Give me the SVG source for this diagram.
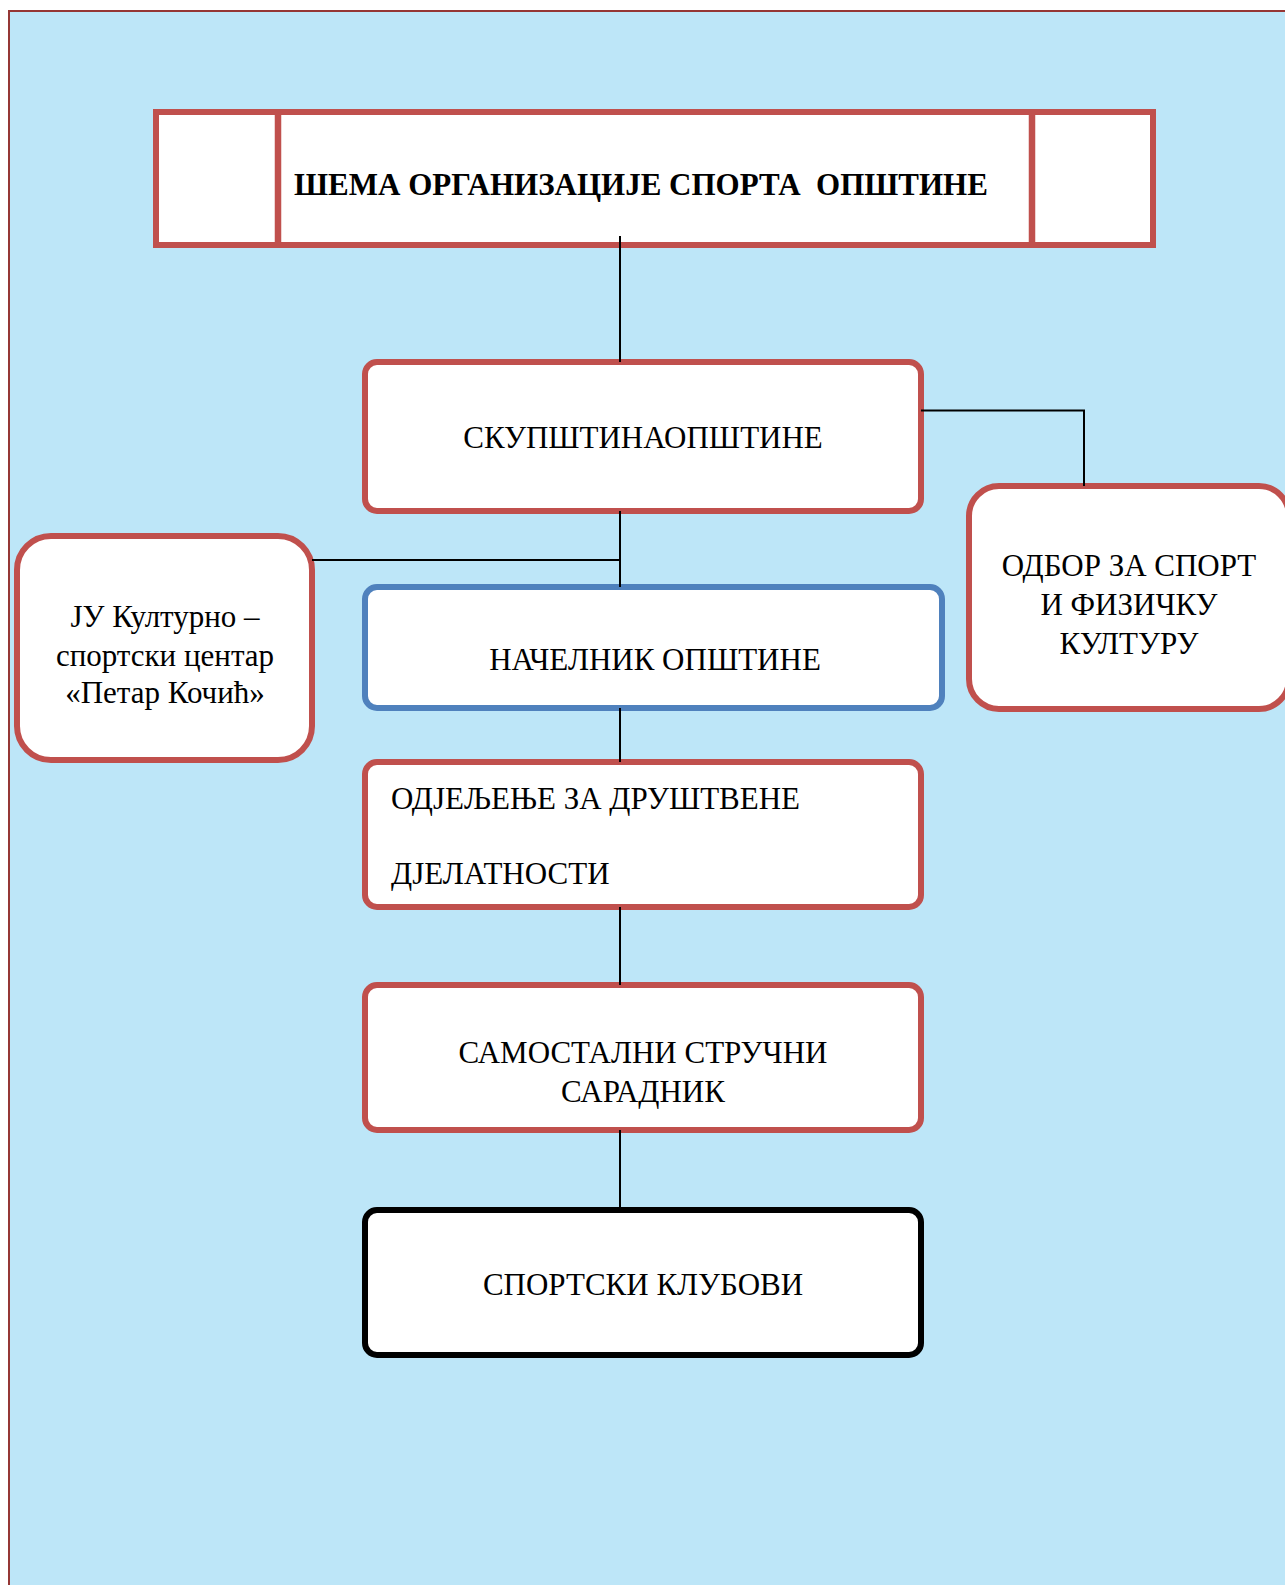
<svg xmlns="http://www.w3.org/2000/svg" width="1285" height="1585" viewBox="0 0 1285 1585">
<style>
.bg{fill:#bde6f8;stroke:#953735;stroke-width:2}
.box{fill:#ffffff;stroke:#c0504d;stroke-width:6}
.blue{stroke:#4f81bd}
.black{stroke:#000000}
.t{font-family:"Liberation Serif","Times New Roman",serif;font-size:31px;fill:#000}
.c{text-anchor:middle}
.title{font-weight:bold;font-size:31px;white-space:pre}
.conn{stroke:#000;stroke-width:2;fill:none}
</style>
<rect class="bg" x="9" y="11" width="1290" height="1590"/>
<g id="title">
<rect class="box" x="156" y="112" width="997" height="133" rx="0" stroke-width="6.5"/>
<line x1="278" y1="112" x2="278" y2="245" stroke="#c0504d" stroke-width="6.5"/>
<line x1="1032" y1="112" x2="1032" y2="245" stroke="#c0504d" stroke-width="6.5"/>
<text class="t title c" x="641" y="195" xml:space="preserve">ШЕМА ОРГАНИЗАЦИЈЕ СПОРТА  ОПШТИНЕ</text>
</g>
<g id="skupstina">
<rect class="box" x="365" y="362" width="556" height="149" rx="12"/>
<text class="t c" x="643" y="448">СКУПШТИНАОПШТИНЕ</text>
</g>
<g id="ju">
<rect class="box" x="17" y="536" width="295" height="224" rx="34"/>
<text class="t c" x="165" y="627">ЈУ Културно –</text>
<text class="t c" x="165" y="666">спортски центар</text>
<text class="t c" x="165" y="703">«Петар Кочић»</text>
</g>
<g id="odbor">
<rect class="box" x="969" y="486" width="320" height="223" rx="30"/>
<text class="t c" x="1129" y="576">ОДБОР ЗА СПОРТ</text>
<text class="t c" x="1129" y="615">И ФИЗИЧКУ</text>
<text class="t c" x="1129" y="654">КУЛТУРУ</text>
</g>
<g id="nacelnik">
<rect class="box blue" x="365" y="587" width="577" height="121" rx="12"/>
<text class="t c" x="655" y="670">НАЧЕЛНИК ОПШТИНЕ</text>
</g>
<g id="odjeljenje">
<rect class="box" x="365" y="762" width="556" height="145" rx="12"/>
<text class="t" x="391" y="809">ОДЈЕЉЕЊЕ ЗА ДРУШТВЕНЕ</text>
<text class="t" x="391" y="884">ДЈЕЛАТНОСТИ</text>
</g>
<g id="samostalni">
<rect class="box" x="365" y="985" width="556" height="145" rx="12"/>
<text class="t c" x="643" y="1063">САМОСТАЛНИ СТРУЧНИ</text>
<text class="t c" x="643" y="1102">САРАДНИК</text>
</g>
<g id="klubovi">
<rect class="box black" x="365" y="1210" width="556" height="145" rx="12"/>
<text class="t c" x="643" y="1295">СПОРТСКИ КЛУБОВИ</text>
</g>
<g id="connectors">
<line class="conn" x1="620" y1="236" x2="620" y2="362"/>
<line class="conn" x1="620" y1="511" x2="620" y2="587"/>
<line class="conn" x1="312" y1="560" x2="620" y2="560"/>
<polyline class="conn" points="921,410.5 1084,410.5 1084,486"/>
<line class="conn" x1="620" y1="708" x2="620" y2="762"/>
<line class="conn" x1="620" y1="907" x2="620" y2="985"/>
<line class="conn" x1="620" y1="1130" x2="620" y2="1210"/>
</g>
</svg>
